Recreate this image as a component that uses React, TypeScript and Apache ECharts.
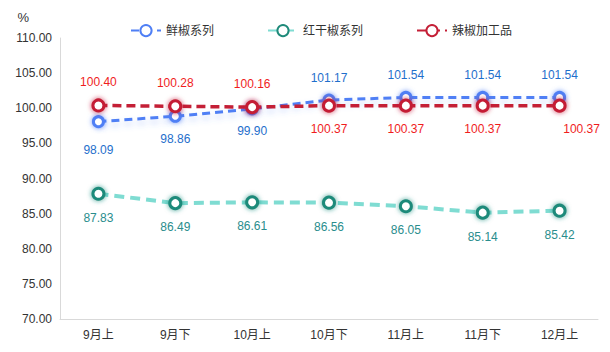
import React, { useEffect, useRef } from "react";
import * as echarts from "echarts";

const categories = ["9月上", "9月下", "10月上", "10月下", "11月上", "11月下", "12月上"];
const freshPepper = [98.09, 98.86, 99.9, 101.17, 101.54, 101.54, 101.54];
const redDryPepper = [87.83, 86.49, 86.61, 86.56, 86.05, 85.14, 85.42];
const processed = [100.4, 100.28, 100.16, 100.37, 100.37, 100.37, 100.37];
const seriesNames = ["鲜椒系列", "红干椒系列", "辣椒加工品"];
const yTicks = { min: 70, max: 110, interval: 5 };

const FONT = "Arial, 'Liberation Sans', 'Noto Sans CJK SC', sans-serif";

export default function App() {
  const ref = useRef<HTMLDivElement>(null);
  useEffect(() => {
    if (!ref.current) return;
    const chart = echarts.init(ref.current, null, { renderer: "svg" });

    const blueLabelPos = (i: number) => (freshPepper[i] < processed[i] ? "bottom" : "top");
    const redLabelPos = (i: number) => (freshPepper[i] < processed[i] ? "top" : "bottom");

    const marker = (border: string, glow: string) => ({
      color: "#fff",
      borderColor: border,
      borderWidth: 3,
      shadowColor: glow,
      shadowBlur: 5,
    });

    chart.setOption({
      animation: false,
      textStyle: { fontFamily: FONT },
      grid: { left: 60, right: 12, top: 38, bottom: 33 },
      legend: {
        left: 125,
        top: 19,
        itemGap: 53,
        itemWidth: 30,
        itemHeight: 14,
        textStyle: { fontSize: 12, color: "#333", fontFamily: FONT },
        data: seriesNames,
      },
      xAxis: {
        type: "category",
        data: categories,
        boundaryGap: true,
        axisLine: { lineStyle: { color: "#d9d9d9" } },
        axisTick: { show: false },
        axisLabel: { color: "#333", fontSize: 12, margin: 10 },
      },
      yAxis: {
        type: "value",
        min: yTicks.min,
        max: yTicks.max,
        interval: yTicks.interval,
        name: "%",
        nameGap: 14,
        nameTextStyle: { color: "#333", fontSize: 13, align: "right", padding: [0, 31, 0, 0] },
        axisLine: { show: true, lineStyle: { color: "#d9d9d9" } },
        axisTick: { show: false },
        splitLine: { show: false },
        axisLabel: {
          color: "#333",
          fontSize: 12,
          formatter: (v: number) => v.toFixed(2),
        },
      },
      series: [
        {
          name: seriesNames[0],
          type: "line",
          z: 3,
          data: freshPepper.map((v, i) => ({
            value: v,
            label: {
              position: blueLabelPos(i),
              distance: i === 0 ? 16 : 10,
            },
          })),
          symbol: "circle",
          symbolSize: 10,
          lineStyle: {
            color: "#4f7ff5",
            width: 3,
            type: [8, 5],
            shadowColor: "rgba(79,127,245,0.35)",
            shadowBlur: 6,
            shadowOffsetY: 4,
          },
          itemStyle: marker("#4f7ff5", "rgba(79,127,245,0.8)"),
          label: {
            show: true,
            color: "#1f6fcc",
            fontSize: 12,
            formatter: (p: any) => Number(p.value).toFixed(2),
          },
        },
        {
          name: seriesNames[1],
          type: "line",
          z: 2,
          data: redDryPepper,
          symbol: "circle",
          symbolSize: 11,
          lineStyle: { color: "#7fdcd2", width: 4, type: [10, 6] },
          itemStyle: marker("#1f8a7a", "rgba(31,138,122,0.8)"),
          label: {
            show: true,
            position: "bottom",
            distance: 11,
            color: "#2a8d8d",
            fontSize: 12,
            formatter: (p: any) => Number(p.value).toFixed(2),
          },
        },
        {
          name: seriesNames[2],
          type: "line",
          z: 4,
          data: processed.map((v, i) => ({
            value: v,
            label: {
              position: redLabelPos(i),
              distance: 10,
              offset: i === processed.length - 1 ? [22, 0] : [0, 0],
            },
          })),
          symbol: "circle",
          symbolSize: 11,
          lineStyle: { color: "#c41f36", width: 3.5, type: [9, 5] },
          itemStyle: marker("#c41f36", "rgba(196,31,54,0.8)"),
          label: {
            show: true,
            color: "#f01d1d",
            fontSize: 12,
            formatter: (p: any) => Number(p.value).toFixed(2),
          },
        },
      ],
    });
    return () => chart.dispose();
  }, []);

  return <div ref={ref} style={{ width: 610, height: 352, margin: -8 }} />;
}
